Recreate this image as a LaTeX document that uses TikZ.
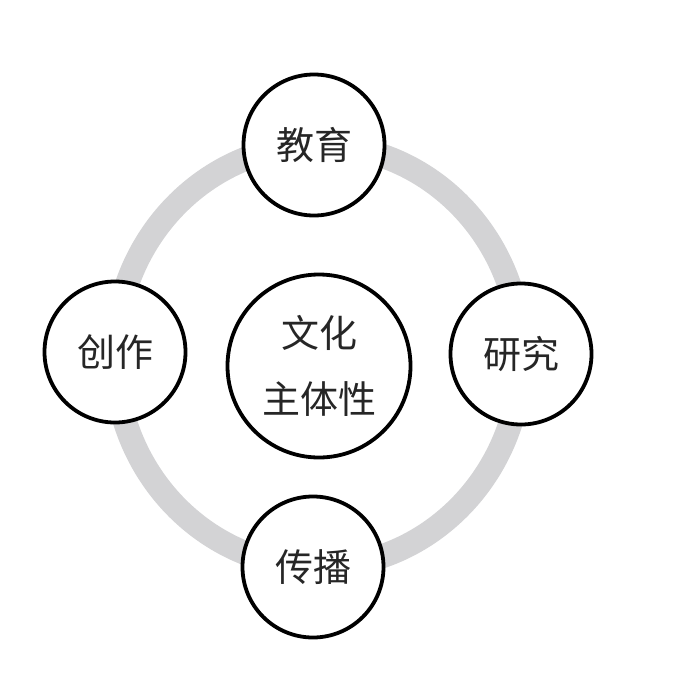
\documentclass[tikz,border=0pt]{standalone}
\usepackage{fontspec}
\newfontfamily\cjk{Noto Sans CJK SC}
\definecolor{ringgray}{HTML}{D3D3D5}
\tikzset{
  bubble/.style={circle, draw=black, line width=3.8pt, fill=white, minimum size=141pt, inner sep=0pt, font=\cjk\fontsize{38}{64}\selectfont, text=black!85},
  core/.style={bubble, minimum size=183pt, align=center}
}
\begin{document}
\begin{tikzpicture}[x=1pt,y=-1pt]
\useasboundingbox (0,0) rectangle (685,672);
\fill[white] (0,0) rectangle (685,672);
\coordinate (ringc) at (318,356);
\draw[ringgray, line width=24pt] (ringc) ellipse [x radius=203, y radius=211];
\node[core] (culture) at (319,366) {文化\\[2pt]主体性};
\node[bubble] (edu) at (314,145) {教育};
\node[bubble] (create) at (115,352) {创作};
\node[bubble] (research) at (521,354) {研究};
\node[bubble] (spread) at (313,567) {传播};
\end{tikzpicture}
\end{document}
